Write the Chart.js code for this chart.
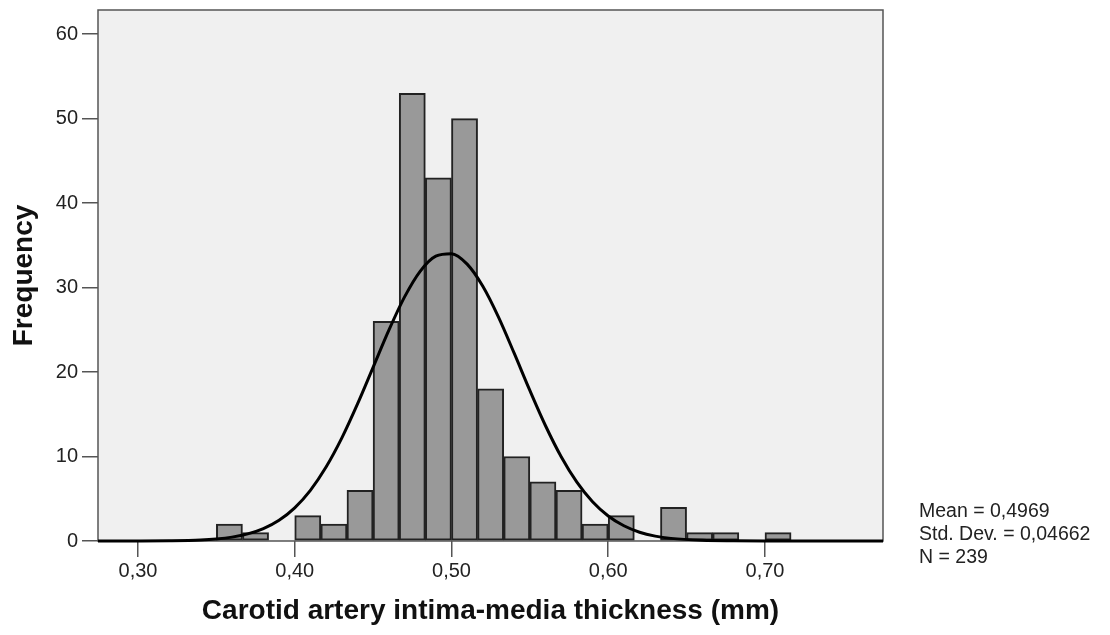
<!DOCTYPE html>
<html lang="en">
<head>
  <meta charset="UTF-8">
  <title>Carotid IMT histogram</title>
  <script src="https://cdn.jsdelivr.net/npm/chart.js"></script>
</head>
<body>
  <div id="chart-container">
    <canvas id="histogram"></canvas>
  </div>
</body>
</html>
<style>
html, body {
  margin: 0;
  padding: 0;
  background: #fff;
}

#chart-container {
  width: 1110px;
  height: 635px;
}
</style>
<script>
// Histogram bins (mm): first bin start and bin width
const binStart = 0.35;
const binWidth = 1 / 60;
const binCounts = [2, 1, 0, 3, 2, 6, 26, 53, 43, 50, 18, 10, 7, 6, 2, 3, 0, 4, 1, 1, 0, 1];

// Normal curve
const curveX = [0.2745, 0.30, 0.32, 0.34, 0.35, 0.36, 0.37, 0.38, 0.39, 0.40, 0.41, 0.42, 0.43, 0.44,
  0.45, 0.46, 0.47, 0.48, 0.49, 0.50, 0.51, 0.52, 0.53, 0.54, 0.55, 0.56, 0.57, 0.58, 0.59,
  0.60, 0.61, 0.62, 0.63, 0.64, 0.66, 0.68, 0.70, 0.7753];
const curveY = [0, 0.005, 0.03, 0.12, 0.24, 0.46, 0.84, 1.47, 2.46, 3.93, 6.0, 8.75, 12.17, 16.19,
  20.55, 24.92, 28.86, 31.92, 33.72, 34.01, 32.77, 30.15, 26.5, 22.23, 17.82, 13.64, 9.97, 6.96, 4.64,
  2.96, 1.8, 1.04, 0.58, 0.31, 0.075, 0.015, 0, 0];

const xTicks = [0.30, 0.40, 0.50, 0.60, 0.70];
const yTicks = [0, 10, 20, 30, 40, 50, 60];
const xRange = [0.2745, 0.7753];
const yMax = 62.85;

const statsLines = ['Mean = 0,4969', 'Std. Dev. = 0,04662', 'N = 239'];

document.addEventListener('DOMContentLoaded', () => {
  const ctx = document.getElementById('histogram').getContext('2d');

  const barData = binCounts.map((count, i) => ({ x: binStart + (i + 0.5) * binWidth, y: count }));
  const lineData = curveX.map((x, i) => ({ x, y: curveY[i] }));

  // plot background, frame and stats box
  const framePlugin = {
    id: 'frame',
    beforeDraw(chart) {
      const { ctx, chartArea: a } = chart;
      ctx.save();
      ctx.fillStyle = '#f0f0f0';
      ctx.fillRect(a.left, a.top, a.right - a.left, a.bottom - a.top);
      ctx.restore();
    },
    beforeDatasetsDraw(chart) {
      const { ctx, chartArea: a } = chart;
      ctx.save();
      ctx.strokeStyle = '#555';
      ctx.lineWidth = 1.5;
      ctx.strokeRect(a.left, a.top, a.right - a.left, a.bottom - a.top);
      ctx.restore();
    },
    afterDraw(chart) {
      const { ctx } = chart;
      ctx.save();
      ctx.fillStyle = '#222';
      ctx.font = '19.5px "Liberation Sans", Arial, sans-serif';
      ctx.textBaseline = 'alphabetic';
      statsLines.forEach((line, i) => ctx.fillText(line, 919, 517 + i * 23));
      ctx.restore();
    }
  };

  const tickFont = { family: '"Liberation Sans", Arial, sans-serif', size: 20 };
  const titleFont = { family: '"Liberation Sans", Arial, sans-serif', size: 28, weight: 'bold' };

  new Chart(ctx, {
    type: 'bar',
    data: {
      datasets: [
        {
          type: 'line',
          data: lineData,
          borderColor: '#000',
          borderWidth: 3,
          pointRadius: 0,
          cubicInterpolationMode: 'monotone',
          fill: false,
          clip: 2,
          order: 0,
        },
        {
          data: barData,
          backgroundColor: '#999999',
          borderColor: '#222',
          borderWidth: 2,
          borderSkipped: false,
          barPercentage: 1,
          categoryPercentage: 1,
          grouped: false,
          order: 1,
        },
      ],
    },
    options: {
      responsive: true,
      maintainAspectRatio: false,
      animation: false,
      layout: { padding: { left: 0, top: 10, right: 227, bottom: 0 } },
      plugins: {
        legend: { display: false },
        tooltip: { enabled: false },
      },
      scales: {
        x: {
          type: 'linear',
          min: xRange[0],
          max: xRange[1],
          offset: false,
          afterBuildTicks: scale => { scale.ticks = xTicks.map(v => ({ value: v })); },
          afterFit: scale => { scale.height = 94; },
          grid: { offset: false, drawOnChartArea: false, tickLength: 16, color: '#555', lineWidth: 1.5 },
          border: { display: false },
          ticks: {
            font: tickFont,
            color: '#222',
            padding: 2,
            maxRotation: 0,
            callback: v => v.toFixed(2).replace('.', ','),
          },
          title: {
            display: true,
            text: 'Carotid artery intima-media thickness (mm)',
            font: titleFont,
            color: '#111',
            padding: { top: 0, bottom: 7 },
          },
        },
        y: {
          min: 0,
          max: yMax,
          afterBuildTicks: scale => { scale.ticks = yTicks.map(v => ({ value: v })); },
          afterFit: scale => {
            scale.width = 98;
            scale.paddingTop = 0;
            scale.paddingBottom = 0;
          },
          grid: { drawOnChartArea: false, tickLength: 16, color: '#555', lineWidth: 1.5 },
          border: { display: false },
          ticks: {
            font: tickFont,
            color: '#222',
            padding: 4,
          },
          title: {
            display: true,
            text: 'Frequency',
            font: titleFont,
            color: '#111',
            padding: { top: 7, bottom: 0 },
          },
        },
      },
    },
    plugins: [framePlugin],
  });
});
</script>
